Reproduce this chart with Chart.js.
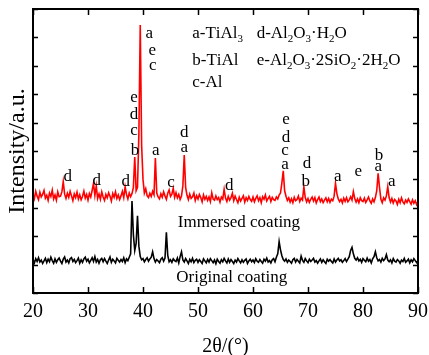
<!DOCTYPE html>
<html>
<head>
<meta charset="utf-8">
<script src="https://cdn.jsdelivr.net/npm/chart.js@4.4.1/dist/chart.umd.min.js"></script>
<style>
html,body{margin:0;padding:0;background:#fff;}
#c{display:block;}
</style>
</head>
<body>
<canvas id="c" width="429" height="355"></canvas>
<script>
// 2θ scan positions (degrees)
const twoTheta = [
20,20.25,20.5,20.75,21,21.25,21.5,21.75,22,22.25,22.5,22.75,23,23.25,23.5,23.75,24,24.25,24.5,24.75,
25,25.25,25.5,25.75,26,26.25,26.5,26.75,27,27.25,27.5,27.75,28,28.25,28.5,28.75,29,29.25,29.5,29.75,
30,30.25,30.5,30.75,31,31.25,31.5,31.75,32,32.25,32.5,32.75,33,33.25,33.5,33.75,34,34.25,34.5,34.75,
35,35.25,35.5,35.75,36,36.25,36.5,36.75,37,37.25,37.5,37.75,38,38.25,38.5,38.75,39,39.25,39.5,39.75,
40,40.25,40.5,40.75,41,41.25,41.5,41.75,42,42.25,42.5,42.75,43,43.25,43.5,43.75,44,44.25,44.5,44.75,
45,45.25,45.5,45.75,46,46.25,46.5,46.75,47,47.25,47.5,47.75,48,48.25,48.5,48.75,49,49.25,49.5,49.75,
50,50.25,50.5,50.75,51,51.25,51.5,51.75,52,52.25,52.5,52.75,53,53.25,53.5,53.75,54,54.25,54.5,54.75,
55,55.25,55.5,55.75,56,56.25,56.5,56.75,57,57.25,57.5,57.75,58,58.25,58.5,58.75,59,59.25,59.5,59.75,
60,60.25,60.5,60.75,61,61.25,61.5,61.75,62,62.25,62.5,62.75,63,63.25,63.5,63.75,64,64.25,64.5,64.75,
65,65.25,65.5,65.75,66,66.25,66.5,66.75,67,67.25,67.5,67.75,68,68.25,68.5,68.75,69,69.25,69.5,69.75,
70,70.25,70.5,70.75,71,71.25,71.5,71.75,72,72.25,72.5,72.75,73,73.25,73.5,73.75,74,74.25,74.5,74.75,
75,75.25,75.5,75.75,76,76.25,76.5,76.75,77,77.25,77.5,77.75,78,78.25,78.5,78.75,79,79.25,79.5,79.75,
80,80.25,80.5,80.75,81,81.25,81.5,81.75,82,82.25,82.5,82.75,83,83.25,83.5,83.75,84,84.25,84.5,84.75,
85,85.25,85.5,85.75,86,86.25,86.5,86.75,87,87.25,87.5,87.75,88,88.25,88.5,88.75,89,89.25,89.5,89.75,
90];

// Immersed coating intensity (a.u., offset trace)
const immersed = [
350,332,358,341, 329,355,338,347, 361,334,344,326, 352,340,362,331, 345,327,356,339,
341,356,392,348, 333,351,337,358, 342,325,349,336, 355,331,346,328, 340,359,334,347,
327,350,338,361, 386,344,377,333, 349,330,356,338, 326,347,335,353, 341,324,350,337,
356,333,345,329, 342,358,336,374, 347,331,352,339, 350,372,479,360, 372,560,944,520,
400,352,367,343, 336,351,340,358, 346,475,352,338, 331,349,337,356, 342,330,351,363,
340,348,369,337, 353,335,347,329, 341,378,486,372, 344,329,348,333, 339,352,326,343,
331,347,336,321, 345,330,340,326, 338,322,353,331, 327,342,329,336, 320,338,331,365,
334,322,340,327, 336,351,325,341, 329,318,337,324, 333,342,320,336, 326,340,329,323,
338,321,333,342, 325,336,318,339, 330,345,324,333, 340,322,337,329, 326,338,331,345,
352,388,430,360, 341,326,335,320, 332,318,337,325, 329,341,322,334, 327,374,336,321,
333,319,330,338, 324,336,317,329, 338,322,331,318, 327,335,321,333, 319,330,325,341,
386,350,331,322, 330,317,334,323, 336,321,328,339, 327,357,333,320, 331,318,335,325,
322,334,319,328, 338,324,316,331, 321,336,360,421, 372,331,318,335, 327,342,374,336,
320,333,317,329, 324,312,330,318, 335,321,314,327, 319,331,322,313, 328,316,325,311,
322];

// Original coating intensity (a.u.)
const original = [
118,106,121,111, 124,109,116,104, 113,122,107,119, 110,126,114,105, 120,108,117,123,
112,104,119,127, 109,116,106,121, 125,111,118,107, 114,123,105,117, 108,120,126,112,
119,106,115,124, 111,128,109,118, 105,117,122,110, 121,112,104,116, 127,108,119,113,
106,122,115,109, 118,111,124,107, 120,114,126,138, 324,205,150,175, 272,165,128,117,
121,110,118,124, 112,120,126,145, 121,109,118,113, 107,119,124,112, 123,214,132,110,
117,108,120,114, 111,123,106,128, 145,116,109,121, 113,104,118,110, 122,107,115,119,
108,117,111,104, 120,113,106,118, 109,121,114,107, 116,103,119,111, 105,117,110,122,
113,106,120,108, 118,111,104,116, 109,121,113,106, 117,108,115,120, 104,113,119,110,
116,107,121,112, 108,118,111,105, 119,112,123,109, 114,106,117,121, 110,126,138,181,
152,131,118,112, 120,108,116,111, 105,117,122,109, 118,112,106,130, 115,108,121,113,
107,119,111,116, 122,109,114,105, 113,120,108,117, 110,104,119,112, 118,111,106,120,
109,116,122,113, 117,108,114,121, 111,119,128,150, 161,138,122,116, 124,113,119,108,
121,115,110,123, 112,118,106,120, 128,145,124,113, 118,109,122,114, 120,135,116,110,
117,106,121,112, 109,118,113,105, 116,111,122,108, 113,119,106,117, 110,121,114,107,
115];

// x tick values
const xTicks = [20,30,40,50,60,70,80,90];

// Phase letters over the peaks
const peakLabels =      ['a','e','c','e','d','c','b','a','d','a','d','d','d','c','d','e','d','c','a','d','b','a','e','b','a','a'];
const peakLabelAngles = [41.15,41.69,41.76,38.36,38.36,38.36,38.55,42.31,47.51,47.51,26.31,31.58,36.85,45.09,55.69,66.0,66.0,65.82,65.82,69.82,69.58,75.4,79.15,82.91,82.78,85.22];
const peakLabelLevels = [899,837,786,673,614,558,485,485,551,496,393,381,376,375,364,596,531,485,436,440,376,396,412,467,428,376];

// Phase key (underscore marks a one-character subscript)
const phaseKeyText =   ['a-TiAl_3','b-TiAl','c-Al','d-Al_2O_3·H_2O','e-Al_2O_3·2SiO_2·2H_2O'];
const phaseKeyAngles = [48.96,48.96,48.96,60.67,60.67];
const phaseKeyLevels = [899,803,727,899,803];

// Trace names
const traceNames =  ['Immersed coating','Original coating'];
const traceAngles = [57.45,56.13];
const traceLevels = [232,39];

const SERIF = '"Liberation Serif","Times New Roman",serif';
Chart.defaults.font.family = SERIF;
Chart.defaults.color = '#000';

const framePlugin = {
  id: 'frame',
  afterDraw(chart) {
    const {ctx, chartArea: a, scales: {x, y}} = chart;
    ctx.save();
    ctx.strokeStyle = '#000';
    ctx.lineWidth = 2;
    ctx.strokeRect(a.left, a.top, a.right - a.left, a.bottom - a.top);
    ctx.lineWidth = 1.5;
    ctx.beginPath();
    x.ticks.forEach(t => {
      const px = Math.round(x.getPixelForValue(t.value)) + 0.5;
      ctx.moveTo(px, a.bottom); ctx.lineTo(px, a.bottom - 6);
      ctx.moveTo(px, a.top); ctx.lineTo(px, a.top + 6);
    });
    y.ticks.forEach(t => {
      const py = Math.round(y.getPixelForValue(t.value)) + 0.5;
      ctx.moveTo(a.left, py); ctx.lineTo(a.left + 5, py);
      ctx.moveTo(a.right, py); ctx.lineTo(a.right - 5, py);
    });
    ctx.stroke();

    ctx.fillStyle = '#000';
    ctx.textBaseline = 'alphabetic';
    // peak letters
    ctx.textAlign = 'center';
    ctx.font = '17px ' + SERIF;
    peakLabels.forEach((s, i) => {
      ctx.fillText(s, x.getPixelForValue(peakLabelAngles[i]), y.getPixelForValue(peakLabelLevels[i]));
    });
    // trace names
    ctx.font = '17px ' + SERIF;
    traceNames.forEach((s, i) => {
      ctx.fillText(s, x.getPixelForValue(traceAngles[i]), y.getPixelForValue(traceLevels[i]));
    });
    // phase key with subscripts
    ctx.textAlign = 'left';
    phaseKeyText.forEach((s, i) => {
      let px = x.getPixelForValue(phaseKeyAngles[i]);
      const py = y.getPixelForValue(phaseKeyLevels[i]);
      for (let k = 0; k < s.length; k++) {
        if (s[k] === '_') {
          k++;
          ctx.font = '11px ' + SERIF;
          ctx.fillText(s[k], px, py + 4.5);
          px += ctx.measureText(s[k]).width;
        } else {
          ctx.font = '17px ' + SERIF;
          ctx.fillText(s[k], px, py);
          px += ctx.measureText(s[k]).width;
        }
      }
    });
    ctx.restore();
  }
};

new Chart(document.getElementById('c'), {
  type: 'line',
  data: {
    labels: twoTheta,
    datasets: [
      {label: traceNames[0], data: immersed, borderColor: '#ff0000', borderWidth: 1.6, pointRadius: 0, tension: 0},
      {label: traceNames[1], data: original, borderColor: '#000000', borderWidth: 1.6, pointRadius: 0, tension: 0}
    ]
  },
  options: {
    responsive: false,
    animation: false,
    devicePixelRatio: 1,
    layout: {padding: {top: 9, right: 11, bottom: 0, left: 0}},
    plugins: {legend: {display: false}, tooltip: {enabled: false}},
    scales: {
      x: {
        type: 'linear', min: 20, max: 90,
        afterBuildTicks(s) { s.ticks = xTicks.map(v => ({value: v})); },
        afterFit(s) { s.height = 62; s.paddingLeft = 0; s.paddingRight = 0; },
        ticks: {font: {size: 20}, color: '#000', padding: 7, maxRotation: 0},
        grid: {display: false, drawTicks: false},
        border: {display: false},
        title: {display: true, text: '2θ/(°)', font: {size: 20, lineHeight: 0.85}, padding: 0, color: '#000'}
      },
      y: {
        min: 0, max: 1000,
        ticks: {display: false, stepSize: 100},
        afterFit(s) { s.width = 33; s.paddingTop = 0; s.paddingBottom = 0; },
        grid: {display: false, drawTicks: false},
        border: {display: false},
        title: {display: true, text: 'Intensity/a.u.', font: {size: 24, lineHeight: 1.2}, padding: {top: 3, bottom: 0}, color: '#000'}
      }
    }
  },
  plugins: [framePlugin]
});
</script>
</body>
</html>
